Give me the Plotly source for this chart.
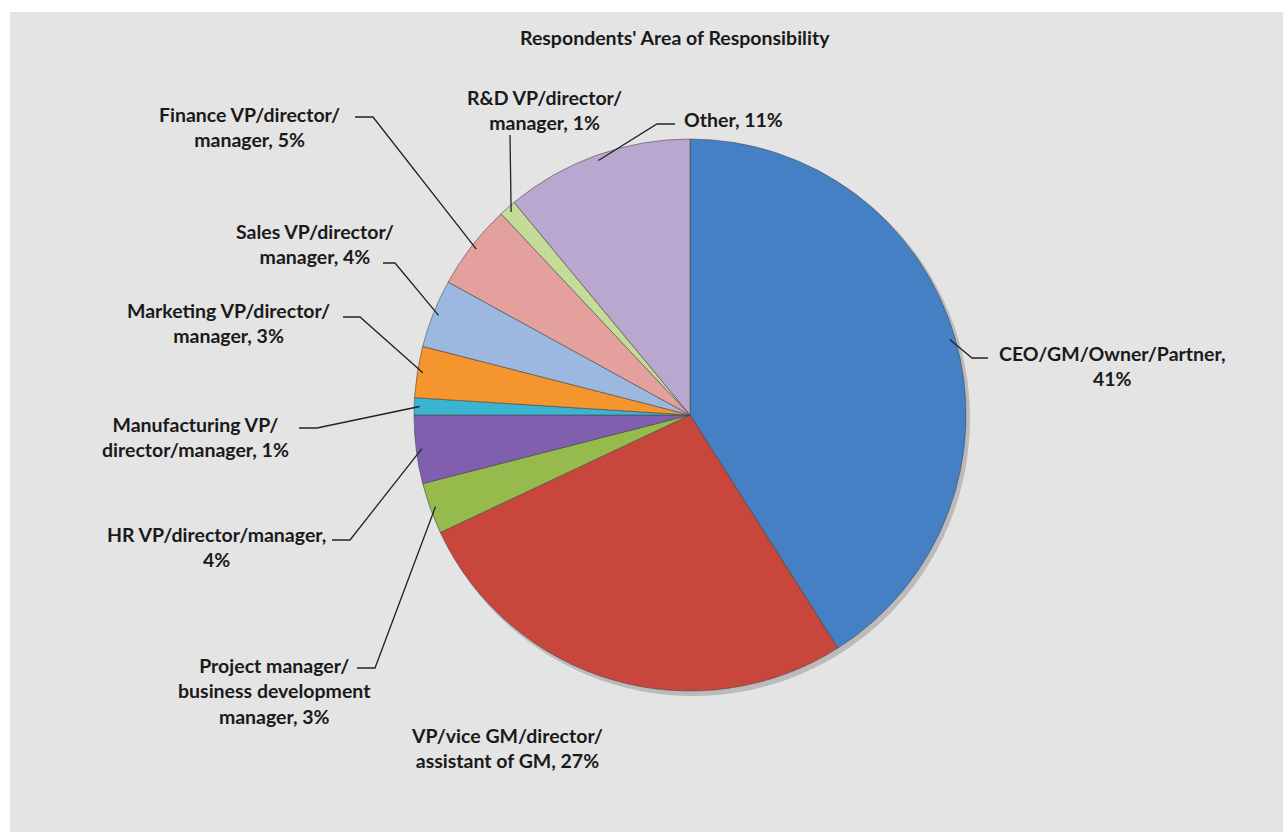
import math
import plotly.graph_objects as go

# ---- data ----
categories = [
    "CEO/GM/Owner/Partner",
    "VP/vice GM/director/assistant of GM",
    "Project manager/business development manager",
    "HR VP/director/manager",
    "Manufacturing VP/director/manager",
    "Marketing VP/director/manager",
    "Sales VP/director/manager",
    "Finance VP/director/manager",
    "R&D VP/director/manager",
    "Other",
]
shares = [41, 27, 3, 4, 1, 3, 4, 5, 1, 11]
label_lines = [
    ["CEO/GM/Owner/Partner,", "{}%"],
    ["VP/vice GM/director/", "assistant of GM, {}%"],
    ["Project manager/", "business development", "manager, {}%"],
    ["HR VP/director/manager,", "{}%"],
    ["Manufacturing VP/", "director/manager, {}%"],
    ["Marketing VP/director/", "manager, {}%"],
    ["Sales VP/director/", "manager, {}%"],
    ["Finance VP/director/", "manager, {}%"],
    ["R&D VP/director/", "manager, {}%"],
    ["Other, {}%"],
]
colors = ["#4480c3", "#c9463d", "#96bb4c", "#7f5fae", "#3ab4d0",
          "#f4952e", "#9db8e0", "#e3a09d", "#c4dc98", "#b9a7cf"]

# ---- layout geometry (pixels) ----
W, H = 1283, 832
CX, CY, R = 690, 415, 276

# label anchor (x, y, xanchor) and leader elbow/end points
label_pos = [
    (1112, 366, "center"), (507, 748, "center"), (274, 691, "center"),
    (216, 547, "center"), (196, 437, "center"), (228, 323, "center"),
    (315, 244, "center"), (249, 127, "center"), (544, 110, "center"),
    (682, 119, "left"),
]
leaders = [
    [(972, 358), (988, 358)], None, [(375, 668), (357, 668)],
    [(350, 540), (332, 540)], [(317, 428), (299, 428)],
    [(360, 317), (343, 317)], [(395, 263), (383, 263)],
    [(373, 117), (355, 117)], [(510, 135)], [(657, 124), (675, 124)],
]


def px(x):
    return x / W


def py(y):
    return 1 - y / H


FONT = "Lato"
fig = go.Figure()
fig.add_trace(go.Pie(
    labels=categories, values=shares, sort=False, direction="clockwise",
    rotation=0, textinfo="none", hoverinfo="label+percent",
    marker=dict(colors=colors, line=dict(color="rgba(70,70,70,0.55)", width=1)),
    domain=dict(x=[px(CX - R), px(CX + R)], y=[py(CY + R), py(CY - R)]),
    showlegend=False,
))

shapes = [
    # white frame strips on left and top
    dict(type="rect", xref="paper", yref="paper", x0=0, x1=px(10), y0=0, y1=1,
         fillcolor="white", line_width=0, layer="below"),
    dict(type="rect", xref="paper", yref="paper", x0=0, x1=1, y0=py(12), y1=1,
         fillcolor="white", line_width=0, layer="below"),
    # soft drop shadow under the pie
    dict(type="circle", xref="paper", yref="paper",
         x0=px(CX - R + 2), x1=px(CX + R + 4), y0=py(CY + R + 5), y1=py(CY - R + 2),
         fillcolor="rgba(0,0,0,0.18)", line_width=0, layer="below"),
]

annotations = [dict(
    text="<b>Respondents' Area of Responsibility</b>", x=px(675), y=py(38),
    xref="paper", yref="paper", showarrow=False, xanchor="center", yanchor="middle",
    font=dict(family=FONT, size=19.5, color="#1a1a1a"),
)]

total = sum(shares)
cum = 0
for i, v in enumerate(shares):
    mid = (cum + v / 2) / total * 2 * math.pi
    cum += v
    lx, ly, anchor = label_pos[i]
    text = "<br>".join(s.format(v) for s in label_lines[i])
    annotations.append(dict(
        text="<b>" + text + "</b>", x=px(lx), y=py(ly), xref="paper", yref="paper",
        showarrow=False, xanchor=anchor, yanchor="middle", align="center",
        font=dict(family=FONT, size=19.5, color="#1a1a1a"),
    ))
    if leaders[i]:
        ex = CX + 0.98 * R * math.sin(mid)
        ey = CY - 0.98 * R * math.cos(mid)
        pts = [(ex, ey)] + leaders[i]
        path = "M " + " L ".join(f"{px(x):.5f},{py(y):.5f}" for x, y in pts)
        shapes.append(dict(type="path", xref="paper", yref="paper", path=path,
                           line=dict(color="#222222", width=1.3), layer="above"))

fig.update_layout(
    width=W, height=H, margin=dict(l=0, r=0, t=0, b=0),
    paper_bgcolor="#e4e4e4", plot_bgcolor="#e4e4e4",
    shapes=shapes, annotations=annotations,
)
fig.write_html("out.html")
